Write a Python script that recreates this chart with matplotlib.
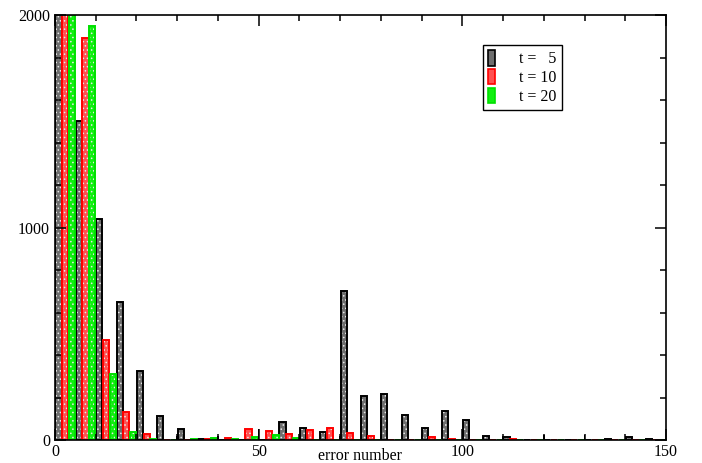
import matplotlib
matplotlib.use("Agg")
import matplotlib.pyplot as plt
import numpy as np
from matplotlib.ticker import MultipleLocator

plt.rcParams['font.family'] = ['Liberation Serif', 'DejaVu Serif']
plt.rcParams['hatch.linewidth'] = 0.6

# histogram of error numbers, bins of width 5 (bin start = 5*k)
bins = np.arange(0, 150, 5)
t5 = [2500, 1500, 1040, 650, 325, 113, 50, 3, 0, 0,
      0, 83, 55, 36, 700, 207, 218, 119, 56, 137,
      94, 21, 15, 0, 0, 0, 0, 5, 12, 3]
t10 = [2500, 1890, 470, 130, 27, 1, 0, 7, 8, 52,
       44, 27, 47, 55, 34, 20, 2, 2, 13, 3,
       2, 1, 4, 2, 0, 0, 0, 0, 0, 0]
t20 = [2500, 1950, 310, 40, 6, 0, 7, 9, 7, 12,
       24, 8, 2, 0, 0, 0, 0, 0, 0, 0,
       0, 0, 0, 0, 0, 0, 0, 0, 0, 0]
# thin spikes at multiples of 10
spike_x = [30, 40, 50, 60, 70, 80, 90, 100, 110, 120, 130, 140]
spike_y = [19, 20, 50, 24, 20, 18, 20, 47, 20, 25, 25, 20]

series = [
    (t5, 0.85, '#6e6e6e', 'black', 't =   5'),
    (t10, 2.5, '#ff5050', '#ff0000', 't = 10'),
    (t20, 4.15, '#10f010', '#00e000', 't = 20'),
]

fig = plt.figure(figsize=(7.02, 4.63), dpi=100)
ax = fig.add_axes([55/702, 1 - 440/463, 611/702, 425/463])

w = 1.5
handles = []
for vals, off, face, edge, lab in series:
    ax.bar(bins + off, vals, width=w, color=face, edgecolor='#e8e8e8',
           hatch='....', linewidth=0)
    ax.bar(bins + off, vals, width=w, fill=False, edgecolor=edge,
           linewidth=1.4)
    h = plt.Rectangle((0, 0), 1, 1, facecolor=face, edgecolor=edge,
                      linewidth=1.2)
    handles.append((h, lab))

ax.bar(spike_x, spike_y, width=0.35, color='black', linewidth=0)

ax.set_xlim(0, 150)
ax.set_ylim(0, 2000)
ax.xaxis.set_major_locator(MultipleLocator(50))
ax.xaxis.set_minor_locator(MultipleLocator(10))
ax.yaxis.set_major_locator(MultipleLocator(1000))
ax.yaxis.set_minor_locator(MultipleLocator(200))
ax.tick_params(which='both', direction='in', top=True, right=True,
               labelsize=11.5, width=1.1)
ax.tick_params(which='major', length=8)
ax.tick_params(which='minor', length=4)
ax.tick_params(axis='x', pad=3)
for s in ax.spines.values():
    s.set_linewidth(1.2)

ax.set_xlabel('error number', fontsize=11.5, labelpad=-9)

leg = ax.legend([h for h, _ in handles], [l for _, l in handles],
                loc='upper left', bbox_to_anchor=(0.70, 0.93),
                fontsize=11.5, fancybox=False, edgecolor='black',
                framealpha=1, handlelength=0.4, handleheight=1.1,
                borderpad=0.35, labelspacing=0.1, handletextpad=1.5,
                borderaxespad=0)
leg.get_frame().set_linewidth(1.0)

fig.savefig('out.png', dpi=100)
